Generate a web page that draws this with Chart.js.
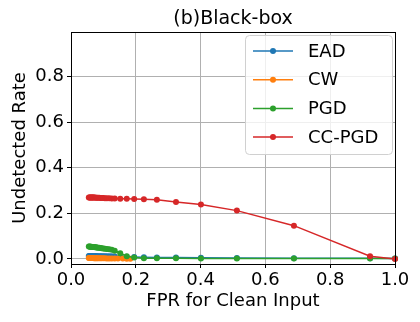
<!DOCTYPE html>
<html>
<head>
<meta charset="utf-8">
<script src="https://cdn.jsdelivr.net/npm/chart.js@4/dist/chart.umd.min.js"></script>
<style>
  html, body { margin: 0; padding: 0; background: #fff; }
  #wrap { width: 420px; height: 322px; }
</style>
</head>
<body>
<div id="wrap"><canvas id="grafico" width="420" height="322"></canvas></div>
<script>
// valori
const titolo = '(b)Black-box';
const xTicks = [0, 0.2, 0.4, 0.6, 0.8, 1.0];
const yTicks = [0, 0.2, 0.4, 0.6, 0.8];

const fprAll = [0.055, 0.057, 0.059, 0.061, 0.063, 0.065, 0.067, 0.069, 0.071, 0.074, 0.077, 0.080, 0.083, 0.087, 0.091, 0.095, 0.100, 0.105, 0.111, 0.118, 0.126, 0.135, 0.152, 0.172, 0.195, 0.225, 0.265, 0.324, 0.401, 0.512, 0.688, 0.923, 1.0];
const eadY = [0.013, 0.013, 0.013, 0.013, 0.013, 0.013, 0.013, 0.013, 0.013, 0.013, 0.013, 0.012, 0.012, 0.012, 0.012, 0.012, 0.012, 0.012, 0.012, 0.012, 0.012, 0.011, 0.011, 0.010, 0.009, 0.008, 0.007, 0.006, 0.005, 0.004, 0.003, 0.003, 0.002];
const pgdY = [0.055, 0.055, 0.054, 0.054, 0.054, 0.053, 0.053, 0.052, 0.052, 0.051, 0.051, 0.050, 0.049, 0.049, 0.048, 0.047, 0.046, 0.045, 0.044, 0.043, 0.041, 0.036, 0.025, 0.012, 0.006, 0.003, 0.003, 0.003, 0.002, 0.002, 0.002, 0.002, 0.002];
const ccpgdY = [0.270, 0.270, 0.270, 0.270, 0.270, 0.269, 0.269, 0.269, 0.269, 0.269, 0.268, 0.268, 0.268, 0.268, 0.267, 0.267, 0.267, 0.266, 0.266, 0.266, 0.265, 0.265, 0.264, 0.264, 0.263, 0.262, 0.260, 0.250, 0.239, 0.212, 0.146, 0.012, 0.0];

const fprCW = [0.055, 0.057, 0.059, 0.061, 0.063, 0.065, 0.067, 0.069, 0.071, 0.074, 0.077, 0.080, 0.083, 0.087, 0.091, 0.095, 0.100, 0.105, 0.111, 0.118, 0.126, 0.135, 0.145, 0.160, 0.172, 0.183];
const cwY = [0.004, 0.004, 0.004, 0.004, 0.004, 0.004, 0.004, 0.004, 0.003, 0.003, 0.003, 0.003, 0.003, 0.003, 0.003, 0.003, 0.003, 0.003, 0.002, 0.002, 0.002, 0.002, 0.002, 0.002, 0.001, 0.001];

const nomi = ['EAD', 'CW', 'PGD', 'CC-PGD'];
const colori = ['#1f77b4', '#ff7f0e', '#2ca02c', '#d62728'];

const font = 'DejaVu Sans';

function punti(xs, ys) { return xs.map((x, i) => ({ x: x, y: ys[i] })); }

function serie(i, xs, ys) {
    return {
        label: nomi[i], data: punti(xs, ys),
        borderColor: colori[i], backgroundColor: colori[i],
        borderWidth: 1.5, pointRadius: 3, pointBorderWidth: 0,
        pointHoverRadius: 3, order: 4 - i, clip: false
    };
}

// cornice completa + titolo centrato sull'area del grafico
const cornice = {
    id: 'cornice',
    afterDatasetsDraw(chart) {
        const a = chart.chartArea, c = chart.ctx;
        c.save();
        c.strokeStyle = '#000'; c.lineWidth = 1;
        c.strokeRect(Math.round(a.left) + 0.5, Math.round(a.top) + 0.5, Math.round(a.right - a.left), Math.round(a.bottom - a.top));
        c.fillStyle = '#000';
        c.font = '19px "' + font + '"';
        c.textAlign = 'center'; c.textBaseline = 'middle';
        c.fillText(titolo, (a.left + a.right) / 2, 19);
        c.restore();
    }
};

// legenda dentro l'area, in alto a destra
const legendaInterna = {
    id: 'legendaInterna',
    afterDraw(chart) {
        const c = chart.ctx;
        const x0 = 245, y0 = 35, w = 147, h = 119, r = 4;
        c.save();
        c.fillStyle = 'rgba(255,255,255,0.8)';
        c.strokeStyle = '#d0d0d0'; c.lineWidth = 1;
        c.beginPath();
        c.roundRect(x0 + 0.5, y0 + 0.5, w, h, r);
        c.fill(); c.stroke();
        c.font = '18px "' + font + '"';
        c.textBaseline = 'middle';
        chart.data.datasets.forEach((ds, i) => {
            const y = 51 + i * 28.7;
            c.strokeStyle = ds.borderColor; c.lineWidth = 1.5;
            c.beginPath(); c.moveTo(253, y); c.lineTo(293, y); c.stroke();
            c.fillStyle = ds.borderColor;
            c.beginPath(); c.arc(273, y, 3, 0, Math.PI * 2); c.fill();
            c.fillStyle = '#000';
            c.fillText(ds.label, 308, y + 1);
        });
        c.restore();
    }
};

const ctx = document.getElementById('grafico').getContext('2d');
new Chart(ctx, {
    type: 'line',
    data: {
        datasets: [
            serie(0, fprAll, eadY),
            serie(1, fprCW, cwY),
            serie(2, fprAll, pgdY),
            serie(3, fprAll, ccpgdY)
        ]
    },
    options: {
        responsive: false, animation: false, devicePixelRatio: 1,
        layout: { padding: { left: 0, right: 25, top: 32, bottom: 0 } },
        plugins: {
            legend: { display: false },
            tooltip: { enabled: false },
            title: { display: false }
        },
        scales: {
            x: {
                type: 'linear', min: 0, max: 1.0,
                afterBuildTicks: (s) => { s.ticks = xTicks.map(v => ({ value: v })); },
                afterFit: (s) => { s.height = 58; },
                ticks: { color: '#000', font: { family: font, size: 18 }, padding: 2, maxRotation: 0, callback: (v) => v.toFixed(1) },
                grid: { color: '#b0b0b0', tickColor: '#000', tickLength: 4, lineWidth: 1 },
                border: { color: '#000', width: 1 },
                title: { display: true, text: 'FPR for Clean Input', color: '#000', font: { family: font, size: 18 }, padding: { top: 0, bottom: 10 } }
            },
            y: {
                type: 'linear', min: -0.022, max: 0.995,
                afterBuildTicks: (s) => { s.ticks = yTicks.map(v => ({ value: v })); },
                afterFit: (s) => { s.width = 71; },
                ticks: { color: '#000', font: { family: font, size: 18 }, padding: 3, callback: (v) => v.toFixed(1) },
                grid: { color: '#b0b0b0', tickColor: '#000', tickLength: 4, lineWidth: 1 },
                border: { color: '#000', width: 1 },
                title: { display: true, text: 'Undetected Rate', color: '#000', font: { family: font, size: 18 }, padding: { top: 10, bottom: 0 } }
            }
        }
    },
    plugins: [cornice, legendaInterna]
});
</script>
</body>
</html>
